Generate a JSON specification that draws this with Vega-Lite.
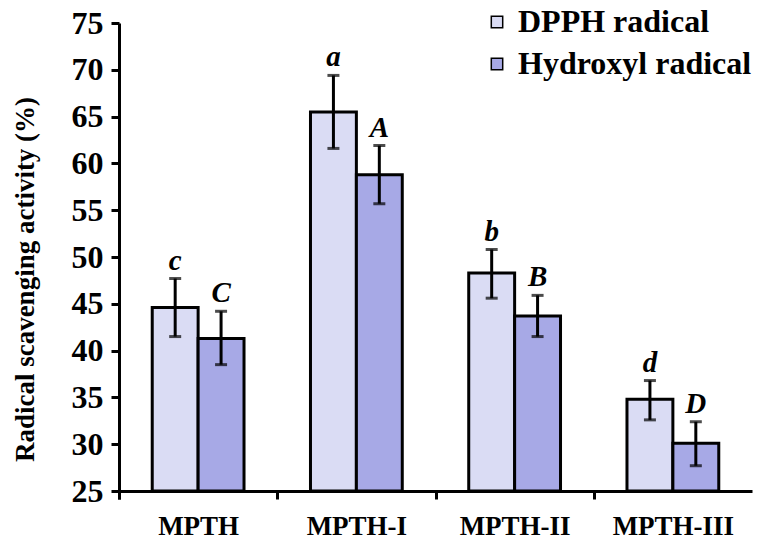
{
  "$schema": "https://vega.github.io/schema/vega-lite/v6.json",
  "width": 633,
  "height": 468,
  "autosize": "none",
  "padding": {"left": 119, "top": 23, "right": 15, "bottom": 57},
  "background": "white",
  "config": {
    "view": {"stroke": "transparent"},
    "font": "Liberation Serif",
    "axisY": {
      "values": [25, 35, 45, 55, 65, 75], "grid": false,
      "domain": true, "ticks": true, "domainColor": "black", "domainWidth": 3,
      "tickColor": "black", "tickWidth": 3, "tickSize": 8,
      "titleFont": "Liberation Serif", "titleFontWeight": "bold", "titleColor": "black", "titleFontSize": 27,
      "titleX": -94, "titleY": 256, "titleAlign": "center", "titleBaseline": "middle", "titleAngle": -90,
      "labelFont": "Liberation Serif", "labelFontWeight": "bold", "labelColor": "black",
      "labelFontSize": 32, "labelPadding": 8
    }
  },
  "data": {
    "values": [
      {"group": "MPTH", "radical": "DPPH radical", "value": 44.6, "lo": 41.5, "hi": 47.7, "letter": "c"},
      {"group": "MPTH", "radical": "Hydroxyl radical", "value": 41.3, "lo": 38.5, "hi": 44.2, "letter": "C"},
      {"group": "MPTH-I", "radical": "DPPH radical", "value": 65.5, "lo": 61.6, "hi": 69.4, "letter": "a"},
      {"group": "MPTH-I", "radical": "Hydroxyl radical", "value": 58.8, "lo": 55.7, "hi": 61.9, "letter": "A"},
      {"group": "MPTH-II", "radical": "DPPH radical", "value": 48.3, "lo": 45.6, "hi": 50.8, "letter": "b"},
      {"group": "MPTH-II", "radical": "Hydroxyl radical", "value": 43.7, "lo": 41.5, "hi": 45.9, "letter": "B"},
      {"group": "MPTH-III", "radical": "DPPH radical", "value": 34.8, "lo": 32.6, "hi": 36.8, "letter": "d"},
      {"group": "MPTH-III", "radical": "Hydroxyl radical", "value": 30.1, "lo": 27.7, "hi": 32.4, "letter": "D"}
    ]
  },
  "encoding": {
    "x": {
      "field": "group", "type": "nominal", "sort": null,
      "scale": {"paddingInner": 0.42, "paddingOuter": 0.21},
      "axis": {
        "title": null, "labelAngle": 0, "grid": false,
        "domain": true, "ticks": true, "domainColor": "black", "domainWidth": 3,
        "tickColor": "black", "tickWidth": 3, "tickSize": 8,
        "bandPosition": 0, "tickExtra": true, "tickOffset": -33, "labelOffset": 33,
        "labelFont": "Liberation Serif", "labelFontWeight": "bold", "labelColor": "black",
        "labelFontSize": 27, "labelPadding": 14
      }
    },
    "xOffset": {"field": "radical", "type": "nominal", "sort": ["DPPH radical", "Hydroxyl radical"], "scale": {"paddingInner": 0, "paddingOuter": 0}}
  },
  "layer": [
    {
      "mark": {"type": "bar", "stroke": "black", "strokeWidth": 3},
      "encoding": {
        "y": {
          "field": "value", "type": "quantitative",
          "scale": {"domain": [25, 75], "nice": false, "zero": false},
          "axis": {"title": "Radical scavenging activity (%)", "domain": true, "ticks": true}
        },
        "y2": {"datum": 25},
        "fill": {
          "field": "radical", "type": "nominal",
          "scale": {"domain": ["DPPH radical", "Hydroxyl radical"], "range": ["#dadcf4", "#a7a9e6"]},
          "legend": {
            "title": null, "orient": "none", "legendX": 362, "legendY": -17,
            "symbolType": "square", "symbolSize": 130, "symbolStrokeColor": "black", "symbolStrokeWidth": 1.5,
            "labelFont": "Liberation Serif", "labelFontWeight": "bold", "labelFontSize": 32, "labelColor": "black",
            "labelLimit": 500, "rowPadding": 10, "labelOffset": 5
          }
        }
      }
    },
    {
      "mark": {"type": "rule", "color": "black", "strokeWidth": 3},
      "encoding": {
        "y": {"field": "lo", "type": "quantitative", "axis": {"title": "Radical scavenging activity (%)", "domain": true, "ticks": true}},
        "y2": {"field": "hi"}
      }
    },
    {
      "mark": {"type": "tick", "color": "black", "thickness": 3, "size": 12, "orient": "horizontal"},
      "encoding": {"y": {"field": "lo", "type": "quantitative", "axis": {"title": "Radical scavenging activity (%)", "domain": true, "ticks": true}}}
    },
    {
      "mark": {"type": "tick", "color": "black", "thickness": 3, "size": 12, "orient": "horizontal"},
      "encoding": {"y": {"field": "hi", "type": "quantitative", "axis": {"title": "Radical scavenging activity (%)", "domain": true, "ticks": true}}}
    },
    {
      "mark": {"type": "text", "font": "Liberation Serif", "fontStyle": "italic", "fontWeight": "bold", "fontSize": 29, "baseline": "alphabetic", "dy": -9, "color": "black"},
      "encoding": {
        "y": {"field": "hi", "type": "quantitative", "axis": {"title": "Radical scavenging activity (%)", "domain": true, "ticks": true}},
        "text": {"field": "letter"}
      }
    }
  ]
}
